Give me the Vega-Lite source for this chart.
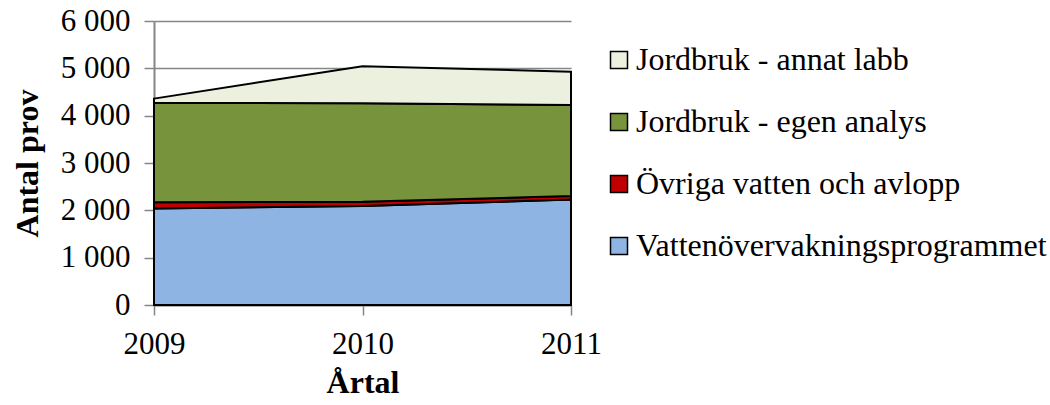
{
  "$schema": "https://vega.github.io/schema/vega-lite/v6.json",
  "autosize": {"type": "none"},
  "padding": {"left": 154, "top": 21, "right": 479, "bottom": 100},
  "width": 417,
  "height": 284,
  "background": "white",
  "config": {
    "view": {"stroke": null},
    "font": "Liberation Serif"
  },
  "data": {
    "values": [
      {"year": "2009", "serie": "Vattenövervakningsprogrammet", "ord": 1, "antal": 2040},
      {"year": "2010", "serie": "Vattenövervakningsprogrammet", "ord": 1, "antal": 2090},
      {"year": "2011", "serie": "Vattenövervakningsprogrammet", "ord": 1, "antal": 2230},
      {"year": "2009", "serie": "Övriga vatten och avlopp", "ord": 2, "antal": 130},
      {"year": "2010", "serie": "Övriga vatten och avlopp", "ord": 2, "antal": 90},
      {"year": "2011", "serie": "Övriga vatten och avlopp", "ord": 2, "antal": 75},
      {"year": "2009", "serie": "Jordbruk - egen analys", "ord": 3, "antal": 2105},
      {"year": "2010", "serie": "Jordbruk - egen analys", "ord": 3, "antal": 2080},
      {"year": "2011", "serie": "Jordbruk - egen analys", "ord": 3, "antal": 1920},
      {"year": "2009", "serie": "Jordbruk - annat labb", "ord": 4, "antal": 85},
      {"year": "2010", "serie": "Jordbruk - annat labb", "ord": 4, "antal": 785},
      {"year": "2011", "serie": "Jordbruk - annat labb", "ord": 4, "antal": 705}
    ]
  },
  "mark": {"type": "area", "stroke": "black", "strokeWidth": 2, "opacity": 1, "fillOpacity": 1},
  "encoding": {
    "x": {
      "field": "year", "type": "ordinal",
      "scale": {"type": "point", "padding": 0},
      "axis": {
        "labelAngle": 0, "grid": false,
        "labelOverlap": false, "labelBound": false,
        "title": "Årtal", "titleFontSize": 32, "titleFontWeight": "bold", "titleFont": "Liberation Serif",
        "titleColor": "black", "titlePadding": 8,
        "labelFontSize": 31, "labelFont": "Liberation Serif", "labelColor": "black", "labelPadding": 14,
        "labelFlush": false,
        "domainColor": "#868686", "domainWidth": 2, "tickColor": "#868686", "tickWidth": 1.5, "tickSize": 10
      }
    },
    "y": {
      "field": "antal", "type": "quantitative", "stack": "zero",
      "scale": {"domain": [0, 6000], "nice": false},
      "axis": {
        "values": [0, 1000, 2000, 3000, 4000, 5000, 6000],
        "labelOverlap": false,
        "labelExpr": "replace(format(datum.value, ','), ',', ' ')",
        "title": "Antal prov", "titleFontSize": 32, "titleFontWeight": "bold", "titleFont": "Liberation Serif",
        "titleColor": "black", "titlePadding": 16,
        "labelFontSize": 31, "labelFont": "Liberation Serif", "labelColor": "black", "labelPadding": 14,
        "grid": true, "gridColor": "#868686", "gridWidth": 1.5,
        "domainColor": "#868686", "domainWidth": 2, "tickColor": "#868686", "tickWidth": 1.5, "tickSize": 10
      }
    },
    "color": {
      "field": "serie", "type": "nominal",
      "scale": {
        "domain": ["Jordbruk - annat labb", "Jordbruk - egen analys", "Övriga vatten och avlopp", "Vattenövervakningsprogrammet"],
        "range": ["#EBF1DE", "#77933C", "#C00000", "#8EB4E3"]
      },
      "legend": {
        "title": null, "orient": "none", "legendX": 449, "legendY": 23,
        "symbolType": "square", "symbolSize": 289, "symbolStrokeColor": "black", "symbolStrokeWidth": 1.5,
        "symbolOpacity": 1,
        "labelFontSize": 32, "labelFont": "Liberation Serif", "labelColor": "black", "labelOffset": 1,
        "labelLimit": 500, "rowPadding": 30
      }
    },
    "order": {"field": "ord", "type": "quantitative"}
  }
}
